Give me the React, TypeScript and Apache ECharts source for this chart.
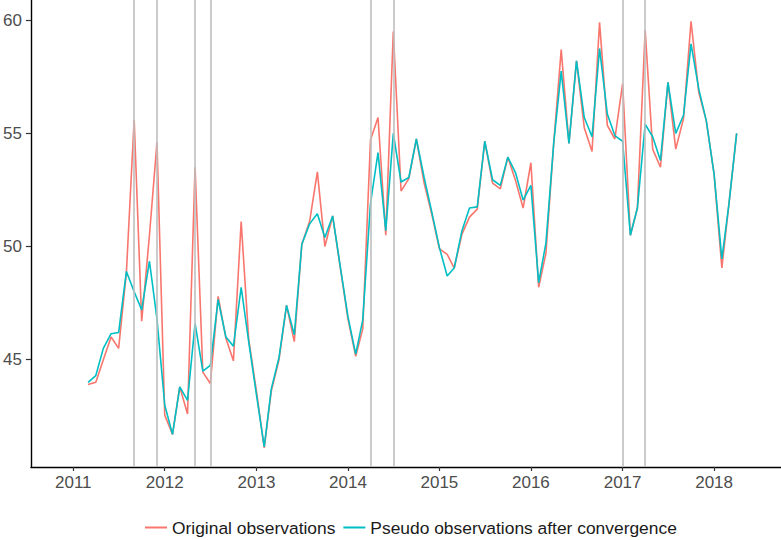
import React, { useEffect, useRef } from "react";
import * as echarts from "echarts";

// Monthly series, March 2011 .. April 2018
const START_YEAR = 2011;
const START_MONTH = 3;

const original = [
  // 2011 Mar-Dec
  43.9, 44.0, 45.0, 46.0, 45.5, 48.85, 55.6, 46.7, 50.5, 54.6,
  // 2012
  42.55, 41.7, 43.8, 42.6, 53.5, 44.45, 43.95, 47.8, 45.95, 44.95, 51.1, 45.9,
  // 2013
  43.6, 41.1, 43.6, 45.0, 47.4, 45.8, 50.1, 51.1, 53.3, 50.0, 51.35, 49.1,
  // 2014
  46.8, 45.15, 46.35, 54.7, 55.7, 50.5, 59.5, 52.45, 53.0, 54.75, 52.8, 51.45,
  // 2015
  49.9, 49.65, 49.05, 50.55, 51.3, 51.65, 54.65, 52.8, 52.55, 53.95, 52.9, 51.7,
  // 2016
  53.7, 48.2, 49.7, 54.55, 58.7, 54.55, 58.2, 55.25, 54.2, 59.9, 55.35, 54.75,
  // 2017
  57.2, 50.5, 51.7, 59.55, 54.3, 53.5, 57.25, 54.3, 55.65, 59.95, 56.8, 55.55,
  // 2018 Jan-Apr
  53.2, 49.05, 51.85, 55.0,
];

const pseudo = [
  // 2011 Mar-Dec
  44.0, 44.3, 45.5, 46.15, 46.2, 48.9, 48.0, 47.2, 49.35, 46.8,
  // 2012
  43.0, 41.7, 43.8, 43.2, 46.6, 44.5, 44.75, 47.65, 46.0, 45.6, 48.2, 45.8,
  // 2013
  43.45, 41.15, 43.7, 45.1, 47.4, 46.1, 50.1, 51.0, 51.45, 50.4, 51.35, 49.15,
  // 2014
  46.9, 45.25, 46.75, 51.9, 54.15, 50.7, 55.0, 52.85, 53.05, 54.75, 53.05, 51.55,
  // 2015
  49.95, 48.7, 49.05, 50.7, 51.7, 51.75, 54.65, 52.95, 52.7, 53.95, 53.25, 52.05,
  // 2016
  52.7, 48.4, 50.15, 54.55, 57.75, 54.55, 58.2, 55.7, 54.85, 58.75, 55.85, 54.9,
  // 2017
  54.65, 50.5, 51.7, 55.4, 54.85, 53.8, 57.25, 55.0, 55.8, 58.95, 56.95, 55.55,
  // 2018 Jan-Apr
  53.2, 49.45, 51.85, 55.0,
];

// Outlier months marked with vertical lines [year, month]
const outliers: [number, number][] = [
  [2011, 9], [2011, 12], [2012, 5], [2012, 7],
  [2014, 4], [2014, 7], [2017, 1], [2017, 4],
];

const xTickYears = [2011, 2012, 2013, 2014, 2015, 2016, 2017, 2018];
const yTicks = [45, 50, 55, 60];

const SERIES_NAMES = ["Original observations", "Pseudo observations after convergence"];
const FONT = "'Liberation Sans', Arial, Helvetica, sans-serif";

const monthTs = (i: number) => Date.UTC(START_YEAR, START_MONTH - 1 + i, 1);

export default function App() {
  const ref = useRef<HTMLDivElement>(null);

  useEffect(() => {
    if (!ref.current) return;
    const chart = echarts.init(ref.current, undefined, { renderer: "svg" });

    const xTicks = xTickYears.map((y) => Date.UTC(y, 0, 1));
    const origData = original.map((v, i) => [monthTs(i), v]);
    const pseudoData = pseudo.map((v, i) => [monthTs(i), v]);
    const vlines = outliers.map(([y, m]) => ({ xAxis: Date.UTC(y, m - 1, 1) }));

    chart.setOption({
      animation: false,
      useUTC: true,
      backgroundColor: "#ffffff",
      grid: { left: 30, right: 0, top: 0, bottom: 73, containLabel: false },
      xAxis: {
        type: "value",
        min: Date.UTC(2010, 6, 16),
        max: Date.UTC(2018, 8, 25),
        axisLine: { show: true, onZero: false, lineStyle: { color: "#000000", width: 1.4 } },
        axisTick: {
          show: true,
          length: 4,
          customValues: xTicks,
          lineStyle: { color: "#333333", width: 1.2 },
        },
        axisLabel: {
          customValues: xTicks,
          formatter: (v: number) => String(new Date(v).getUTCFullYear()),
          color: "#4D4D4D",
          fontSize: 17,
          fontFamily: FONT,
          margin: 7,
        },
        splitLine: { show: false },
      },
      yAxis: {
        type: "value",
        min: 40.26,
        max: 60.89,
        axisLine: { show: true, onZero: false, lineStyle: { color: "#000000", width: 1.4 } },
        axisTick: {
          show: true,
          length: 5,
          customValues: yTicks,
          lineStyle: { color: "#333333", width: 1.2 },
        },
        axisLabel: {
          customValues: yTicks,
          color: "#4D4D4D",
          fontSize: 17,
          fontFamily: FONT,
          margin: 9,
        },
        splitLine: { show: false },
      },
      legend: {
        data: SERIES_NAMES,
        left: 145,
        top: 519,
        padding: 0,
        icon: "rect",
        itemWidth: 22,
        itemHeight: 2,
        itemGap: 8,
        textStyle: { fontSize: 17.4, color: "#1a1a1a", fontFamily: FONT },
      },
      series: [
        {
          type: "line",
          data: origData,
          symbol: "none",
          silent: true,
          z: 1,
          lineStyle: { opacity: 0 },
          markLine: {
            silent: true,
            symbol: "none",
            label: { show: false },
            lineStyle: { color: "#BEBEBE", width: 1.6, type: "solid" },
            data: vlines,
          },
        },
        {
          name: SERIES_NAMES[0],
          type: "line",
          data: origData,
          symbol: "none",
          showSymbol: false,
          z: 2,
          itemStyle: { color: "#F8766D" },
          lineStyle: { color: "#F8766D", width: 1.6 },
        },
        {
          name: SERIES_NAMES[1],
          type: "line",
          data: pseudoData,
          symbol: "none",
          showSymbol: false,
          z: 3,
          itemStyle: { color: "#00BFC4" },
          lineStyle: { color: "#00BFC4", width: 1.6 },
        },
      ],
    });

    return () => chart.dispose();
  }, []);

  return (
    <div
      ref={ref}
      style={{ position: "absolute", left: 0, top: 0, width: 781, height: 540 }}
    />
  );
}
